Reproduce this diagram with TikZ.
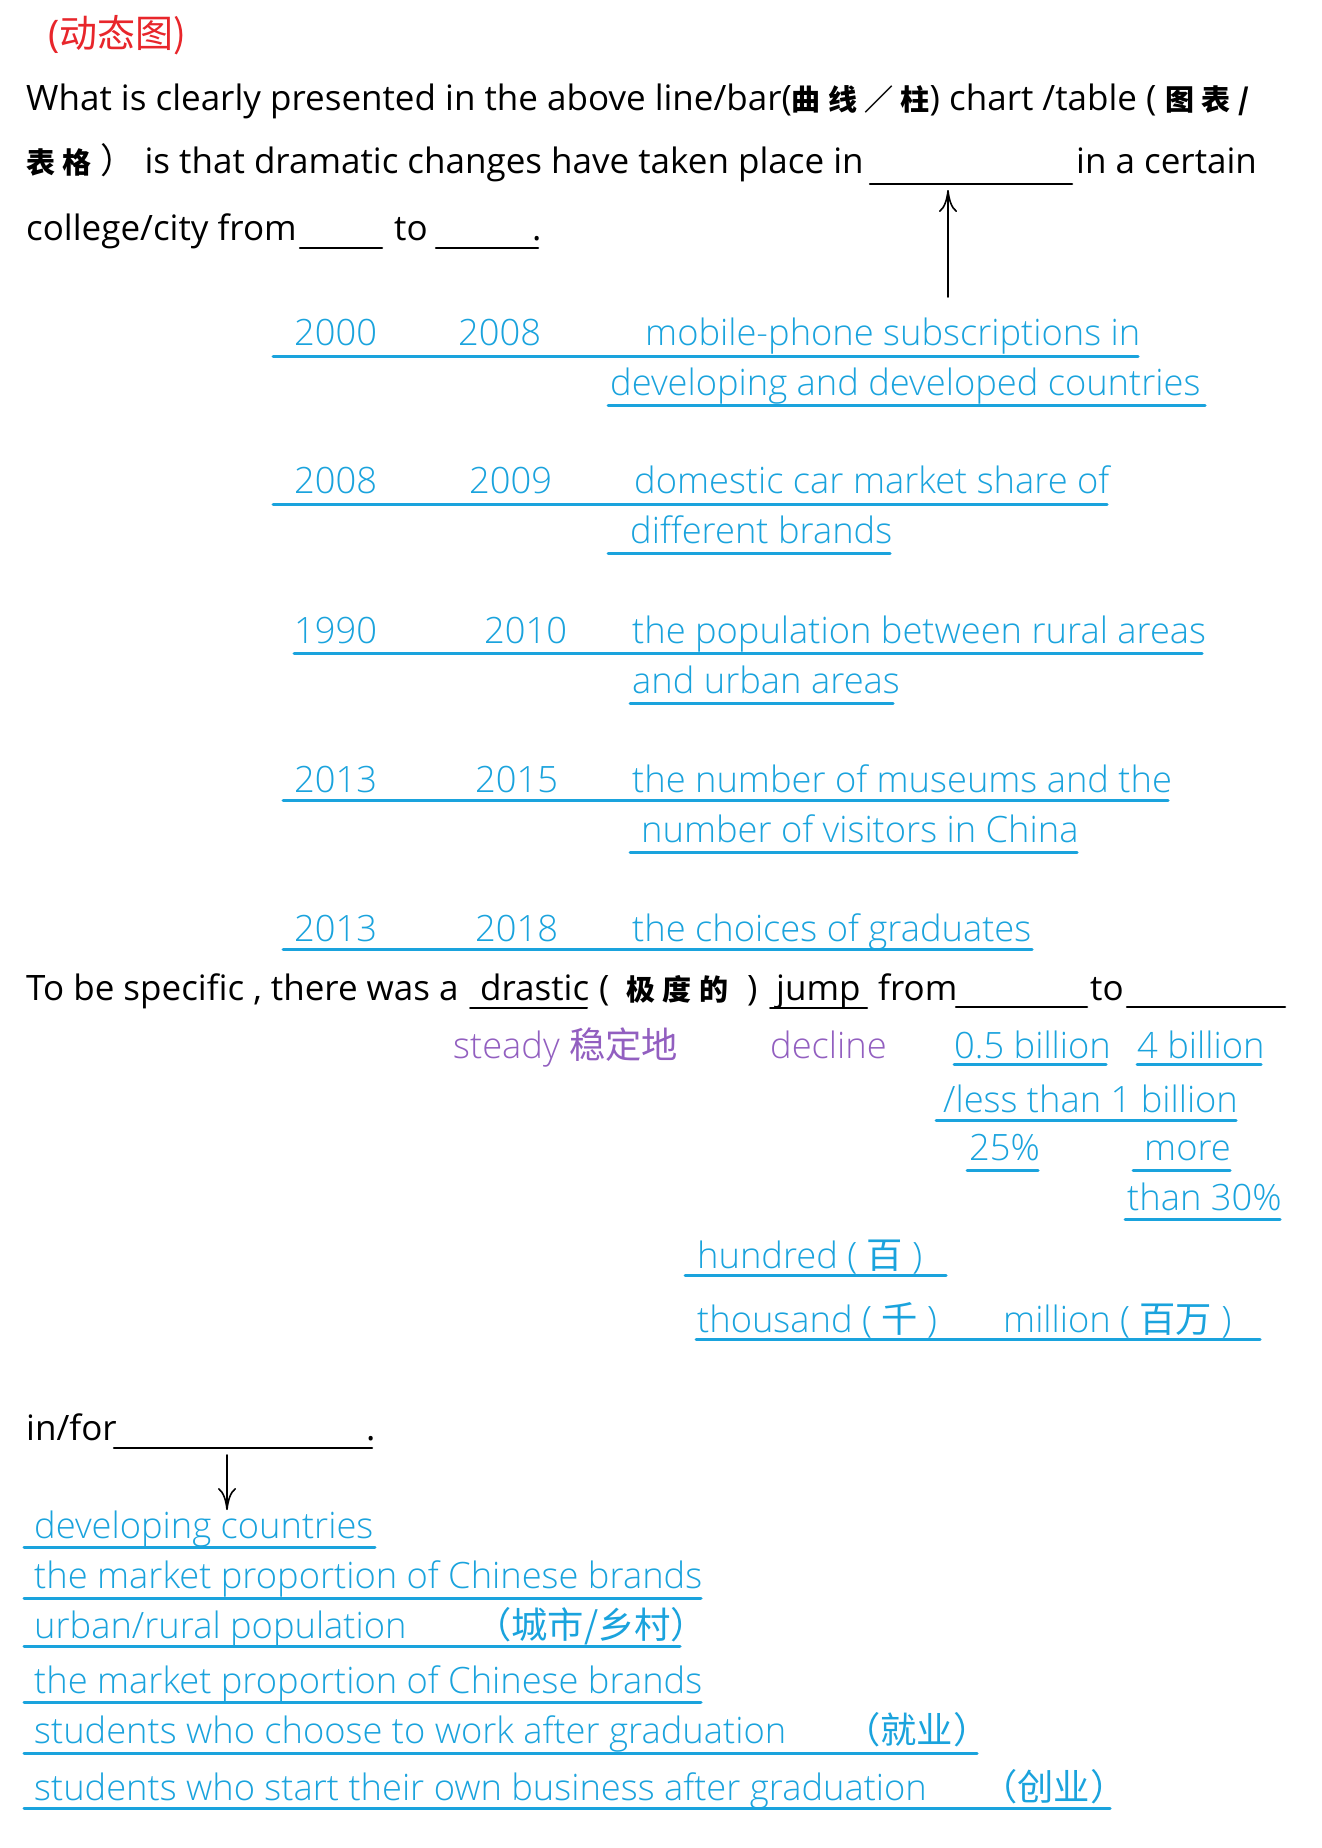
\documentclass[tikz,border=0pt]{standalone}
\usepackage{fontspec}
\setmainfont{Open Sans}
\newfontfamily\lightfont{Open Sans Light}
\newfontfamily\cjk{Noto Sans CJK SC}
\newfontfamily\cjkw{Noto Sans CJK SC}[LetterSpace=25]
\usetikzlibrary{arrows.meta}
\definecolor{ansblue}{HTML}{1AA3DD}
\definecolor{altpurple}{HTML}{925FC0}
\definecolor{headred}{HTML}{E8262B}
\newcommand\bcjk[1]{{\fontsize{29}{40}\cjkw\bfseries #1}}
\tikzset{
	txt/.style={anchor=base west,inner sep=0pt,font=\fontsize{35}{40}\selectfont},
	ans/.style={txt,text=ansblue,font=\fontsize{36.3}{40}\lightfont},
	alt/.style={txt,text=altpurple,font=\fontsize{36.3}{40}\lightfont},
	ul/.style={ansblue,line width=3pt},
	blank/.style={black,line width=2.5pt},
}
\begin{document}
\begin{tikzpicture}[x=1pt,y=-1pt,line cap=round,>={To[length=22pt,width=18pt]}]
	\fill[white] (0,0) rectangle (1322,1848);
	\useasboundingbox (0,0) rectangle (1322,1848);
	% heading and first sentence
	\node[txt,text=headred,font=\fontsize{38}{40}\selectfont] (head) at (48,47) {(\cjk 动态图)};
	\node[txt] (l1) at (26,110) {What is clearly presented in the above line/bar(\bcjk{曲线／柱}) chart /table ( \bcjk{图表/}};
	\node[txt] (l2) at (26,173) {\bcjk{表格} {\cjk ）} is that dramatic changes have taken place in};
	\node[txt] (l2b) at (1076,173) {in a certain};
	\draw[blank] (870,184) coordinate (what0) -- (1072,184) coordinate (what1);
	\node[txt] (l3) at (26,240) {college/city from};
	\draw[blank] (300,248) coordinate (from0) -- (382,248) coordinate (from1);
	\node[txt] (l3to) at (394,240) {to};
	\draw[blank] (436,248) coordinate (to0) -- (538,248) coordinate (to1);
	\node[txt] (l3end) at (532,240) {.};
	\coordinate (up0) at (948,297);
	\coordinate (up1) at (948,190);
	\draw[->,line width=1.6pt] (up0) -- (up1);
	% answers for the first sentence
	\node[ans] (y1a) at (294,345) {2000};
	\node[ans] (y1b) at (458,345) {2008};
	\node[ans] (t1a) at (645,345) {mobile-phone subscriptions in};
	\node[ans] (t1b) at (610,395) {developing and developed countries};
	\draw[ul] (273,356) -- (1138,356);
	\draw[ul] (608,405) -- (1205,405);
	\node[ans] (y2a) at (294,493) {2008};
	\node[ans] (y2b) at (469,493) {2009};
	\node[ans] (t2a) at (634,493) {domestic car market share of};
	\node[ans] (t2b) at (630,543) {different brands};
	\draw[ul] (273,504) -- (1107,504);
	\draw[ul] (608,553) -- (890,553);
	\node[ans] (y3a) at (294,643) {1990};
	\node[ans] (y3b) at (484,643) {2010};
	\node[ans] (t3a) at (632,643) {the population between rural areas};
	\node[ans] (t3b) at (632,693) {and urban areas};
	\draw[ul] (294,653) -- (1202,653);
	\draw[ul] (630,703) -- (893,703);
	\node[ans] (y4a) at (294,792) {2013};
	\node[ans] (y4b) at (475,792) {2015};
	\node[ans] (t4a) at (632,792) {the number of museums and the};
	\node[ans] (t4b) at (641,842) {number of visitors in China};
	\draw[ul] (283,800) -- (1168,800);
	\draw[ul] (630,852) -- (1077,852);
	\node[ans] (y5a) at (294,941) {2013};
	\node[ans] (y5b) at (475,941) {2018};
	\node[ans] (t5a) at (632,941) {the choices of graduates};
	\draw[ul] (283,949) -- (1032,949);
	% second sentence
	\node[txt] (s1) at (26,1000) {To be specific , there was a};
	\node[txt] (drastic) at (480,1000) {drastic};
	\node[txt] (gloss) at (599,1000) {( \hspace{8pt}\bcjk{极度的}\hspace{10pt} )};
	\node[txt] (jump) at (776,1000) {jump};
	\node[txt] (s1from) at (878,1000) {from};
	\node[txt] (s1to) at (1090,1000) {to};
	\draw[line width=2pt] (470,1008) -- (587,1008);
	\draw[line width=2pt] (770,1008) -- (867,1008);
	\draw[blank] (956,1007) -- (1087,1007);
	\draw[blank] (1127,1007) -- (1285,1007);
	\node[alt] (steady) at (453,1058) {steady {\cjk 稳定地}};
	\node[alt] (decline) at (770,1058) {decline};
	\node[ans] (n1) at (954,1058) {0.5 billion};
	\node[ans] (n2) at (1137,1058) {4 billion};
	\draw[ul] (954,1064) -- (1106,1064);
	\draw[ul] (1137,1064) -- (1261,1064);
	\node[ans] (n3) at (943,1112) {/less than 1 billion};
	\draw[ul] (936,1120) -- (1236,1120);
	\node[ans] (n4) at (969,1160) {25\%};
	\node[ans] (n5) at (1144,1160) {more};
	\draw[ul] (967,1170) -- (1038,1170);
	\draw[ul] (1133,1170) -- (1230,1170);
	\node[ans] (n6) at (1127,1210) {than 30\%};
	\draw[ul] (1125,1219) -- (1280,1219);
	\node[ans] (u1) at (697,1268) {hundred ( {\cjk 百} )};
	\draw[ul] (685,1275) -- (946,1275);
	\node[ans] (u2) at (697,1332) {thousand ( {\cjk 千} )};
	\node[ans] (u3) at (1003,1332) {million ( {\cjk 百万} )};
	\draw[ul] (696,1339) -- (1260,1339);
	% third part
	\node[txt] (infor) at (26,1440) {in/for};
	\draw[blank] (114,1448) -- (372,1448);
	\node[txt] (inend) at (366,1440) {.};
	\coordinate (dn0) at (227,1455);
	\coordinate (dn1) at (227,1510);
	\draw[->,line width=1.6pt] (dn0) -- (dn1);
	\node[ans] (w1) at (34,1538) {developing countries};
	\draw[ul] (24,1547) -- (375,1547);
	\node[ans] (w2) at (34,1588) {the market proportion of Chinese brands};
	\draw[ul] (24,1598) -- (701,1598);
	\node[ans] (w3) at (34,1638) {urban/rural population};
	\node[ans] (w3c) at (475,1638) {\cjk （城市/乡村）};
	\draw[ul] (24,1646) -- (680,1646);
	\node[ans] (w4) at (34,1693) {the market proportion of Chinese brands};
	\draw[ul] (24,1702) -- (701,1702);
	\node[ans] (w5) at (34,1743) {students who choose to work after graduation};
	\node[ans] (w5c) at (844,1743) {\cjk （就业）};
	\draw[ul] (24,1753) -- (977,1753);
	\node[ans] (w6) at (34,1800) {students who start their own business after graduation};
	\node[ans] (w6c) at (981,1800) {\cjk （创业）};
	\draw[ul] (24,1808) -- (1110,1808);
\end{tikzpicture}
\end{document}
